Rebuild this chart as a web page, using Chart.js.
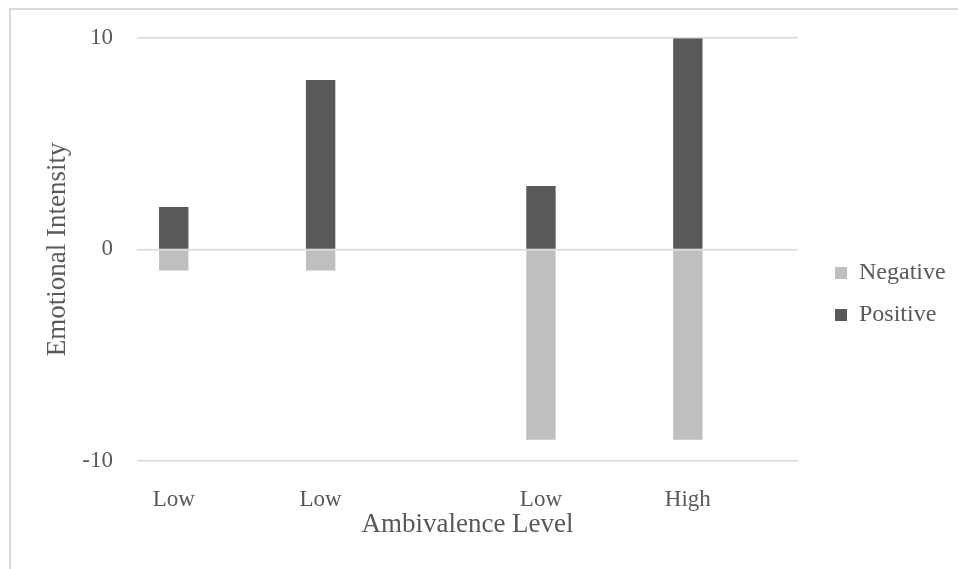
<!DOCTYPE html>
<html lang="en">
<head>
  <meta charset="UTF-8" />
  <title>Emotional Intensity by Ambivalence Level</title>
  <style>
    body { margin: 0; background: #fff; }
    .wrap { position: relative; width: 958px; height: 569px; }
    .frame {
      position: absolute; left: 9px; top: 8px; right: -10px; bottom: -10px;
      border-left: 2px solid #d9d9d9;
      border-top: 2px solid #d9d9d9;
      pointer-events: none;
    }
  </style>
</head>
<body>
  <div class="wrap">
    <canvas id="myChart" width="958" height="569"></canvas>
    <div class="frame"></div>
  </div>
  <script src="https://cdn.jsdelivr.net/npm/chart.js@4.4.0/dist/chart.umd.min.js"></script>
  <script>
    // 9 slots on the category axis, only 4 of them carry bars
    const levels = ["Low", "", "Low", "", "", "Low", "", "High", ""];
    const negative = [-1, null, -1, null, null, -9, null, -9, null];
    const positive = [2, null, 8, null, null, 3, null, 10, null];
    const yTicks = [-10, 0, 10];

    const serif = "'Liberation Serif', 'Times New Roman', serif";
    const textGrey = "#595959";

    // keep the legend a fixed width and nudge its items into place
    const legendPlace = {
      id: "legendPlace",
      beforeLayout(chart) {
        const lg = chart.legend;
        if (lg && !lg._fixed) {
          const fit = lg.fit;
          lg.fit = function () {
            fit.call(this);
            this.width = 160;
          };
          lg._fixed = true;
        }
      },
      afterLayout(chart) {
        const lg = chart.legend;
        if (lg) {
          lg.left += 19;
          lg.right += 19;
          lg.top -= 9;
          lg.bottom -= 9;
        }
      }
    };

    new Chart(document.getElementById("myChart"), {
      type: "bar",
      data: {
        labels: levels,
        datasets: [
          {
            label: "Negative",
            data: negative,
            backgroundColor: "#bfbfbf",
            barPercentage: 0.4,
            categoryPercentage: 1
          },
          {
            label: "Positive",
            data: positive,
            backgroundColor: "#595959",
            barPercentage: 0.4,
            categoryPercentage: 1
          }
        ]
      },
      options: {
        responsive: false,
        animation: false,
        devicePixelRatio: 1,
        layout: { padding: { top: 37, left: 0, right: 0, bottom: 0 } },
        plugins: {
          tooltip: { enabled: false },
          legend: {
            position: "right",
            labels: {
              boxWidth: 12,
              boxHeight: 12,
              padding: 18,
              color: textGrey,
              font: { family: serif, size: 24 }
            }
          }
        },
        scales: {
          x: {
            stacked: true,
            grid: { display: false },
            border: { display: false },
            ticks: {
              color: textGrey,
              padding: 17,
              maxRotation: 0,
              autoSkip: false,
              font: { family: serif, size: 23 }
            },
            title: {
              display: true,
              text: "Ambivalence Level",
              color: textGrey,
              padding: { top: 0, bottom: 28 },
              font: { family: serif, size: 27 }
            },
            afterFit(scale) { scale.height = 108; }
          },
          y: {
            stacked: true,
            min: -10,
            max: 10,
            afterBuildTicks(scale) {
              scale.ticks = yTicks.map(v => ({ value: v }));
            },
            grid: { color: "#d9d9d9", lineWidth: 1.5, drawTicks: false, z: 1 },
            border: { display: false },
            ticks: {
              color: textGrey,
              padding: 24,
              font: { family: serif, size: 23 }
            },
            title: {
              display: true,
              text: "Emotional Intensity",
              color: textGrey,
              padding: { top: 42, bottom: 0 },
              font: { family: serif, size: 27 }
            },
            afterFit(scale) { scale.width = 137; }
          }
        }
      },
      plugins: [legendPlace]
    });
  </script>
</body>
</html>
